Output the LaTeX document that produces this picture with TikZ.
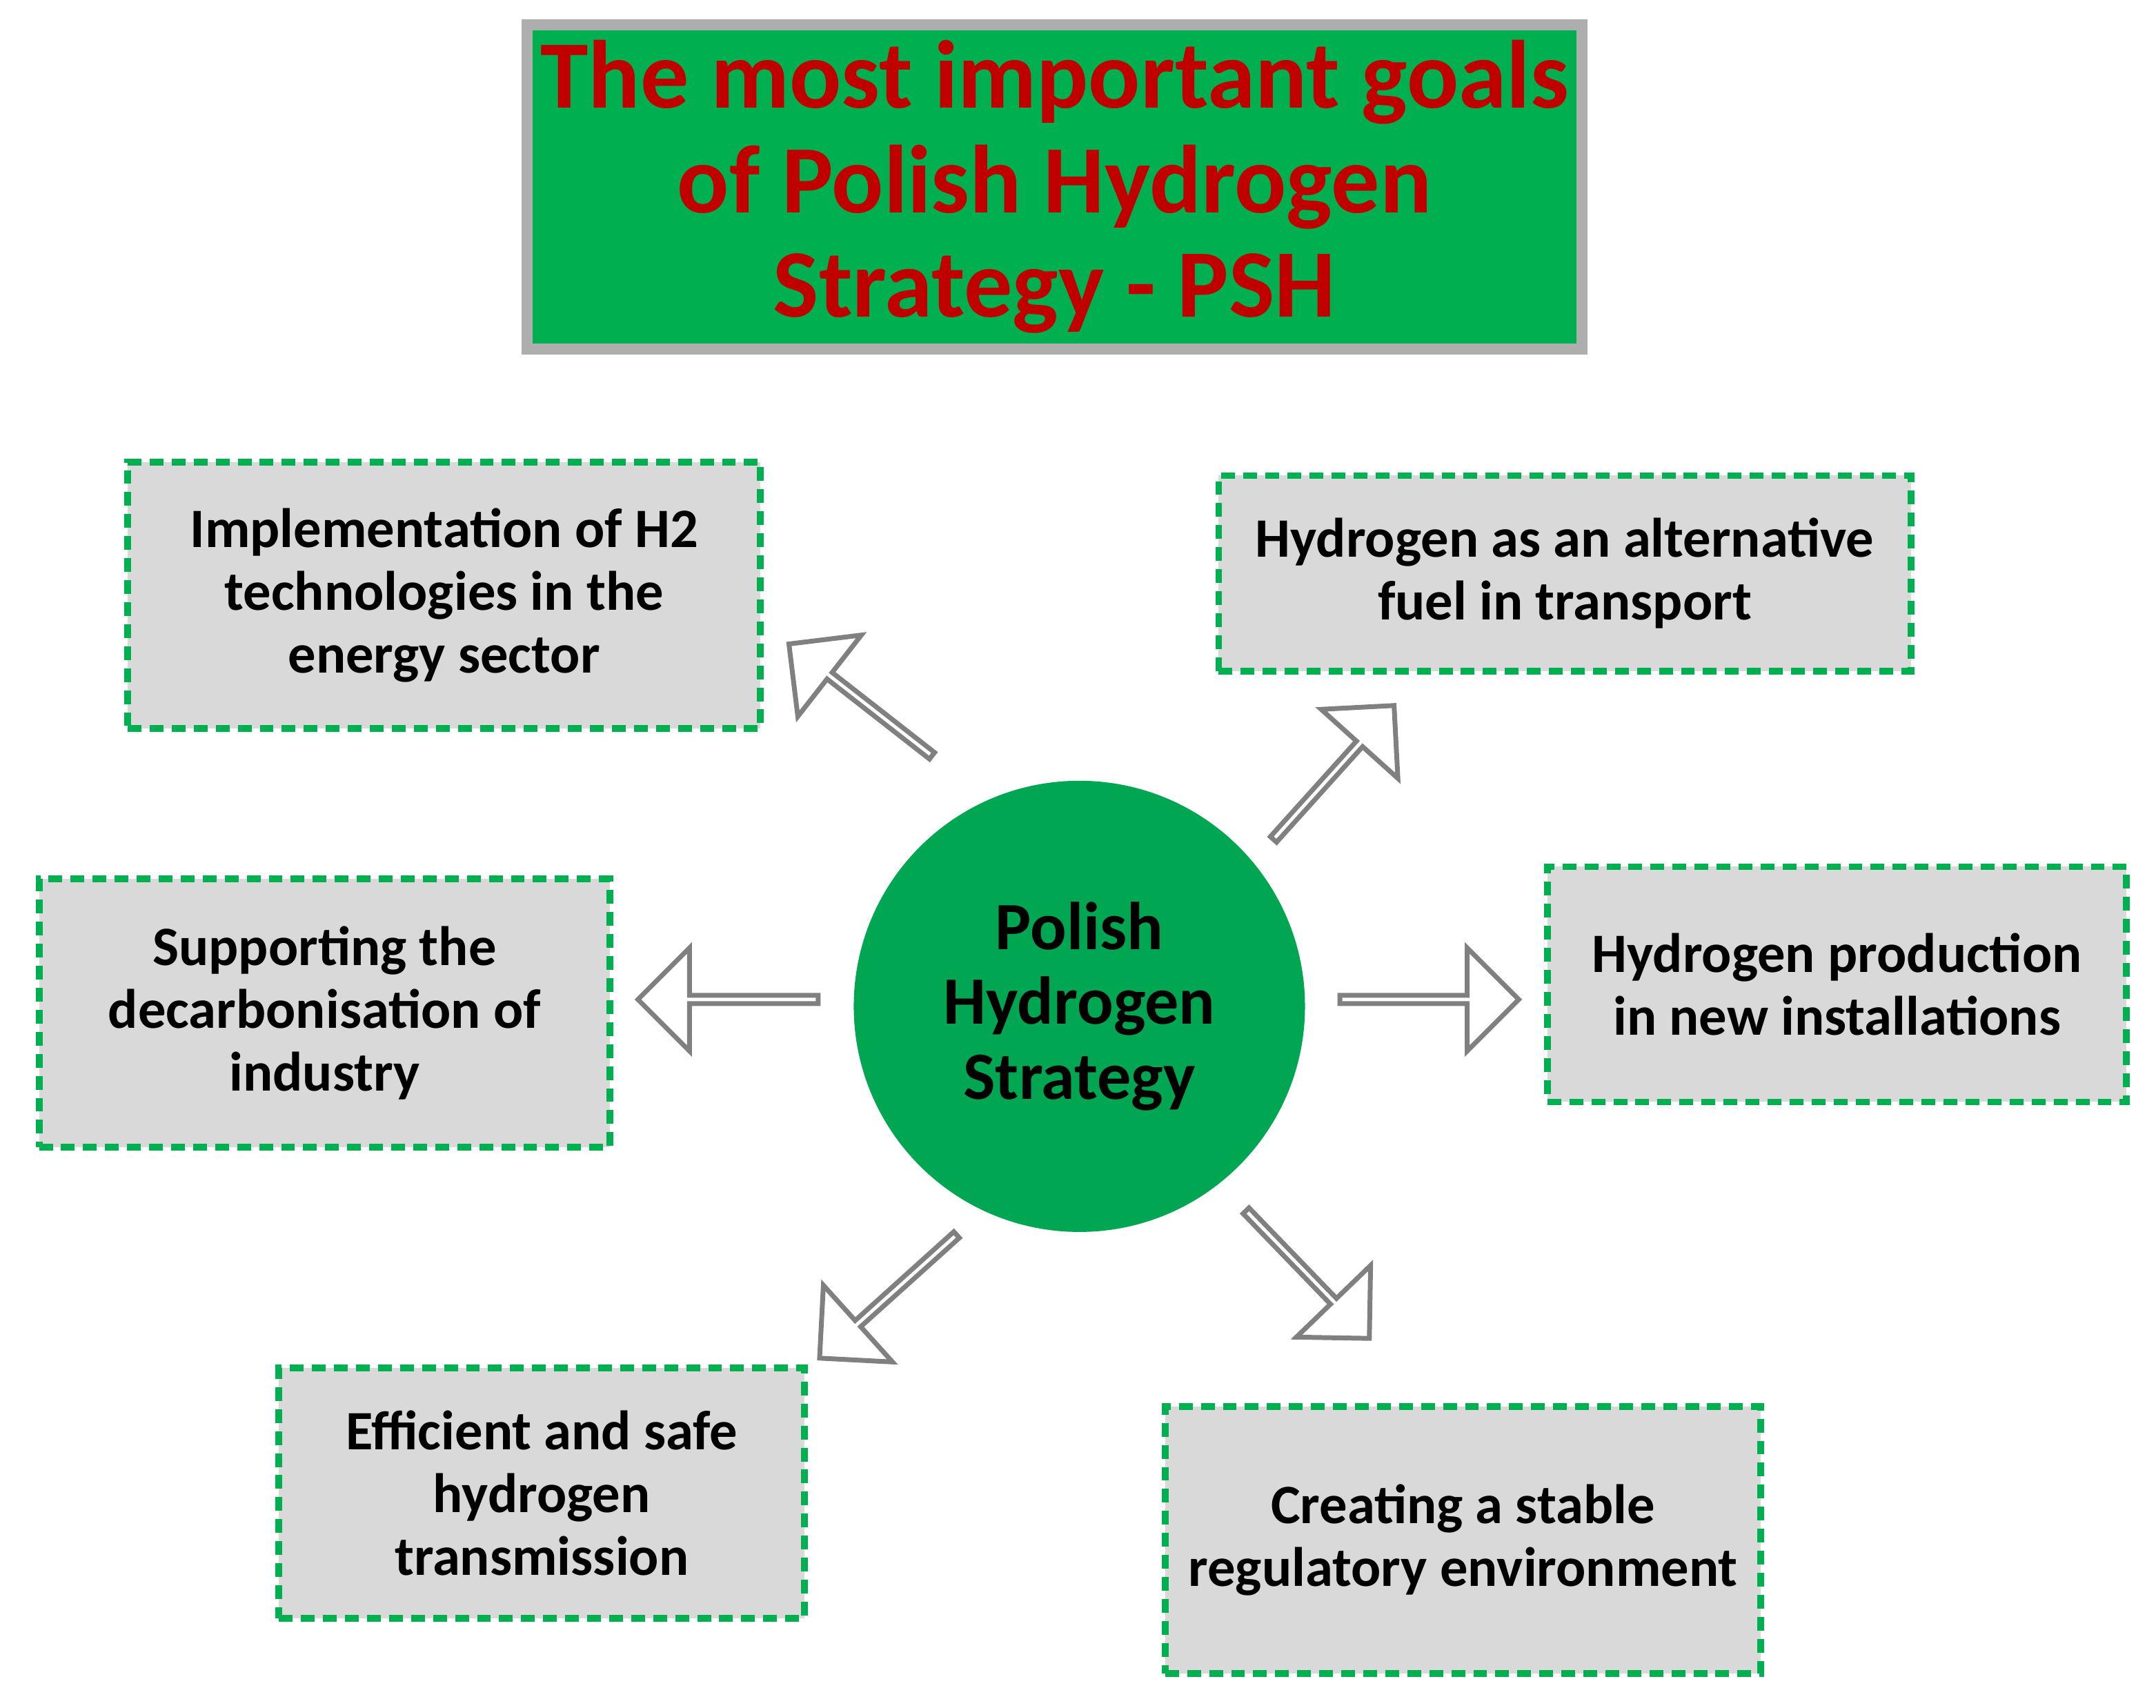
\documentclass[tikz,border=0pt]{standalone}
\usepackage{fontspec}
\setmainfont{Carlito}
\usetikzlibrary{shapes.arrows,calc}
\definecolor{tgreen}{RGB}{0,176,80}
\definecolor{cgreen}{RGB}{0,166,81}
\definecolor{tred}{RGB}{192,0,0}
\definecolor{boxgray}{RGB}{217,217,217}
\definecolor{agray}{RGB}{128,128,128}
\tikzset{
 goal/.style={draw=tgreen,fill=boxgray,dashed,dash pattern=on 0.1cm off 0.06cm,line width=0.05cm,font=\bfseries\fontsize{11.5}{13}\selectfont,align=center,inner sep=0},
 barrow/.style={single arrow,draw=agray,fill=white,line width=0.035cm,minimum width=0.75cm,single arrow head extend=0.2cm,inner sep=0,anchor=center}
}
\begin{document}
\begin{tikzpicture}[x=0.01cm,y=-0.01cm]
\useasboundingbox (0,0) rectangle (1568,1242);
\node[draw=boxgray!80!black,fill=tgreen,line width=0.08cm,minimum width=7.67cm,minimum height=2.36cm,inner sep=0,align=center,text=tred,font=\bfseries\fontsize{20}{21.6}\selectfont] (title) at (767,136) {The most important goals\\of Polish Hydrogen\\Strategy - PSH};
\node[circle,fill=cgreen,minimum size=3.28cm,inner sep=0,align=center,font=\bfseries\fontsize{14}{15.5}\selectfont] (c) at (785,732) {Polish\\Hydrogen\\Strategy};
\node[goal,minimum width=4.6cm,minimum height=1.94cm] (g1) at (323,433) {Implementation of H2\\technologies in the\\energy sector};
\node[goal,minimum width=5.03cm,minimum height=1.42cm] (g2) at (1138,417) {Hydrogen as an alternative\\fuel in transport};
\node[goal,minimum width=4.15cm,minimum height=1.95cm] (g3) at (236,737) {Supporting the\\decarbonisation of\\industry};
\node[goal,minimum width=4.21cm,minimum height=1.71cm] (g4) at (1336,716) {Hydrogen production\\in new installations};
\node[goal,minimum width=3.82cm,minimum height=1.82cm] (g5) at (394,1086) {Efficient and safe\\hydrogen\\transmission};
\node[goal,minimum width=4.33cm,minimum height=1.94cm] (g6) at (1064,1120) {Creating a stable\\regulatory environment};
\node[barrow,minimum height=1.31cm,rotate=180] (a3) at (531,727) {};
\node[barrow,minimum height=1.30cm] (a4) at (1038,727) {};
\node[barrow,minimum height=1.32cm,rotate=142] (a1) at (627,510) {};
\node[barrow,minimum height=1.31cm,rotate=48] (a2) at (969,563) {};
\node[barrow,minimum height=1.34cm,rotate=222] (a5) at (647,942) {};
\node[barrow,minimum height=1.29cm,rotate=-46] (a6) at (950,926) {};
\end{tikzpicture}
\end{document}
